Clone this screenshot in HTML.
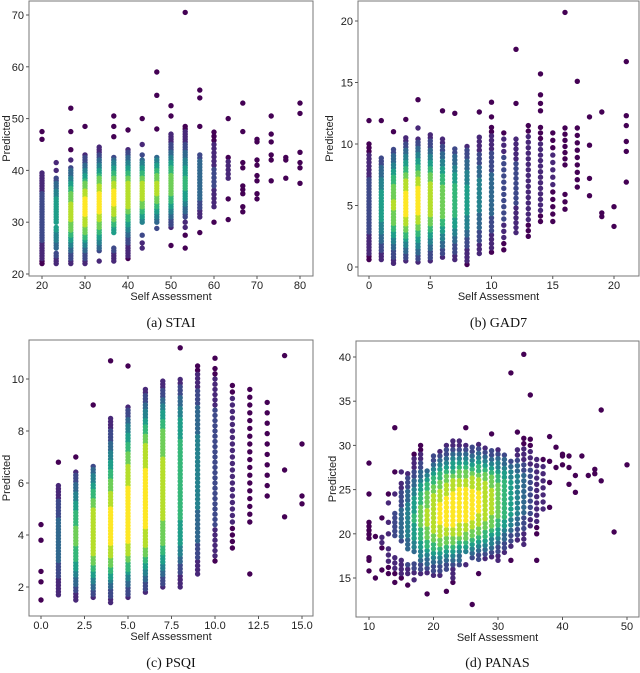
<!DOCTYPE html>
<html><head><meta charset="utf-8"><style>
body{margin:0;background:#fff}
svg{display:block}
text{font-family:"Liberation Sans",sans-serif;fill:#222}
.cap{font-family:"Liberation Serif",serif;font-size:14px;fill:#111}
</style></head><body>
<svg id="c" width="640" height="673" viewBox="0 0 640 673"></svg>
<script>
// ---- data (column x value : strip spec "a-b:step" or single values) ----
const staiCols=[20,23.3,26.7,30,33.3,36.7,40,43.3,46.7,50,53.3,56.7,60,63.3,66.7,70,73.3,76.7,80];
const staiVals=["22-39.5:0.5 46 47.5","22-24:0.5 25-29:0.5 30-38.5:0.5 40 41.5","22-40.5:0.5 42 44 47.5 52","22-43:0.5 48.5","22.5 24.5-44.5:0.5","22.5-25:0.5 28-42.5:0.5 46.5 48.5 50.5","23-44:0.5 47.8","25 26 27.5 30-42:0.5 43 45 50","28.8 30-42.5:0.5 48 54.5 59","25.5 29-47:0.5 50.5 52.5","25 27.5 29 30 31-48.5:0.5 70.5","28 31-43.5:0.6 48.5 54 55.5","30 33-47.5:0.8","30.5 34.5 38.5-43:0.8 50","32 33 35.5 36.3 37 40.5 41.5 47.5 53","34.5 35.5 38 39 41 42 45.5 46","38 42 43 45.5 47 50.5","38.5 42 42.5","37.5 40.5 41.5 43.5 51 53"];
const gadCols=[0,1,2,3,4,5,6,7,8,9,10,11,12,13,14,15,16,17,18,19,20,21];
const gadVals=["0.6-7.6:0.25 7.9-10.2:0.3 11.9","0.6-9:0.25 11.9","0.3-9.6:0.25 11","0.5-10.6:0.25 12","0.4-10.5:0.25 11.3 13.6","0.5-10.8:0.25","0.8-10.6:0.3 12.7","0.6-9.7:0.3 12.5","0.2-10:0.3","1.1-10.8:0.35 12.6","1.2-11.5:0.35 12.2 13.4","1.4-11.1:0.5","2.8-10.7:0.4 13.3 17.7","2.5-11.7:0.45","3.7-11.4:0.45 12.7 13.3 14 15.7","3.7-11.4:0.6","4.7 5.3 5.9 8.3-11.4:0.5 20.7","6.5-11.5:0.6 15.1","5.8 7.2 9.9 12.2","4.1 4.4 12.6","3.3 4.9","6.9 9.4 10.2 11.5 12.3 16.7"];
const psqiCols=[0,1,2,3,4,5,6,7,8,9,10,11,12,13,14,15];
const psqiVals=["1.5 2.2 2.6 3.8 4.4","1.7-6:0.12 6.8","1.5-6.5:0.12 7","1.6-6.7:0.12 9","1.4-8.5:0.12 10.7","1.6-9:0.12 10.5","1.8-9.6:0.12","2-10:0.12","2-10:0.14 11.2","2.5-10.5:0.16","3-10.5:0.2 10.8","3.5-9.8:0.25","2.5 4.5-9.7:0.3","5.5-9.2:0.4","4.7 6.5 10.9","5.2 5.5 7.5"];
const panasCols=[10,11,12,13,14,15,16,17,18,19,20,21,22,23,24,25,26,27,28,29,30,31,32,33,34,35,36,37,38,39,40,41,42,43,44,45,46,48,50];
const panasVals=["15.8 17 17.3 19.5-21.3:0.45 24.5 28","15 19.7","15.9 18.4-19.7:0.6 21.8","15.5-18.5:0.7 20 21.3 23.5 24.5","14.5 15.5-17.5:0.6 19.8-22.7:0.5 24.5 27 32","15-17:0.5 19.2-25.8:0.5 27","14.2 15.5-16.6:0.5 18.3-27:0.5","14.8 15.6-17:0.5 18-29.3:0.5","15.5-30.4:0.5","13.2 15.6-27.5:0.5","15.3-29.2:0.5","15.3-29.7:0.5","13.5 16-30:0.5","14.5-30.7:0.5","16.5-30.8:0.5","16.5 18-30:0.5 32","12 17.3-30.2:0.5","15.5 17.1-30.1:0.5","17.2-29.8:0.5","17.4-29.5:0.5 31.3","17-29.8:0.5","17.9-29:0.5","17 18.6-28.3:0.6 38.2","19.3-30:0.6 31.5","18.8-30.8:0.6 40.3","20.9-31:0.7 35.7","17 20-28.5:0.7","22.8-28.7:0.8","23 25.8 28.2 31","27.5 29.8","27.8 28.8 29","25.6 27.5 28.8","24.7 26.6","28.8","26.6","26.8 27.3","26 34","20.2","27.8"];
// ---- axis tick labels ----
const staiXT=[20,30,40,50,60,70,80], staiYT=[20,30,40,50,60,70];
const gadXT=[0,5,10,15,20], gadYT=[0,5,10,15,20];
const psqiXT=["0.0","2.5","5.0","7.5","10.0","12.5","15.0"], psqiYT=[2,4,6,8,10];
const panasXT=[10,20,30,40,50], panasYT=[15,20,25,30,35,40];

const NS="http://www.w3.org/2000/svg", svg=document.getElementById('c');
function mk(t,a,p){const e=document.createElementNS(NS,t);for(const k in a)e.setAttribute(k,a[k]);(p||svg).appendChild(e);return e;}
const vir=["#440154","#482878","#3e4989","#31688e","#26828e","#1f9e89","#35b779","#6ece58","#b5de2b","#fde725"];
function parse(s){const o=[];s.split(' ').forEach(t=>{if(t.includes('-')){const [r,st]=t.split(':');const [a,b]=r.split('-').map(Number);const step=Number(st);for(let v=a;v<=b+1e-9;v+=step)o.push(v);}else o.push(Number(t));});return o;}
function panel(P){
  const g=mk('g',{});
  
  
  const sx=v=>P.x0+(v-P.xa)*(P.x1-P.x0)/(P.xb-P.xa);
  const sy=v=>P.y0+(v-P.ya)*(P.y1-P.y0)/(P.yb-P.ya);
  const pts=[];
  P.cols.forEach((c,i)=>parse(P.vals[i]).forEach(v=>pts.push([sx(c),sy(v)])));
  const d=pts.map(p=>{let s=0;for(const q of pts){const dx=p[0]-q[0],dy=p[1]-q[1];s+=Math.exp(-(dx*dx/(2*P.sx*P.sx)+dy*dy/(2*P.sy*P.sy)));}return s;});
  const mx=Math.max(...d);
  const idx=pts.map((p,i)=>i).sort((a,b)=>d[a]-d[b]);
  const dots=mk('g',{},g);
  
  
  idx.forEach(i=>{const t=Math.pow(d[i]/mx,P.gam);const c=mk('circle',{cx:pts[i][0].toFixed(1),cy:pts[i][1].toFixed(1),r:2.7,fill:vir[Math.min(9,Math.round(t*9))]},dots);
    
    });
  const fr=mk('rect',{x:P.L,y:P.T,width:P.R-P.L,height:P.B-P.T,fill:'none',stroke:'#777','stroke-width':1},g);
  
  
  P.xt.forEach(t=>{const x=sx(Number(t));mk('line',{x1:x,x2:x,y1:P.B,y2:P.B+3,stroke:'#555'},g);
    const e=mk('text',{x:x,y:P.B+13,'text-anchor':'middle','font-size':11},g);e.textContent=t;
    
    });
  P.yt.forEach(t=>{const y=sy(Number(t));mk('line',{x1:P.L-3,x2:P.L,y1:y,y2:y,stroke:'#555'},g);
    const e=mk('text',{x:P.L-5,y:y+4,'text-anchor':'end','font-size':11},g);e.textContent=t;
    
    });
  const xl=mk('text',{x:(P.L+P.R)/2,y:P.B+24,'text-anchor':'middle','font-size':11},g);xl.textContent='Self Assessment';
  
  
  const yx=P.ylx,yy=(P.T+P.B)/2;
  const yl=mk('text',{x:yx,y:yy,'text-anchor':'middle','font-size':11,transform:`rotate(-90 ${yx} ${yy})`},g);yl.textContent='Predicted';
  
  
  const cp=mk('text',{x:(P.L+P.R)/2,y:P.capy,'text-anchor':'middle',class:'cap'},g);cp.textContent=P.cap;
  
  
}
panel({name:'panel-stai',cols:staiCols,vals:staiVals,xt:staiXT,yt:staiYT,L:29,R:313,T:1,B:276,xa:20,xb:80,x0:42,x1:300,ya:20,yb:70,y0:274,y1:15,sx:22,sy:22,gam:3,ylx:10,cap:'(a) STAI',capy:327});
panel({name:'panel-gad7',cols:gadCols,vals:gadVals,xt:gadXT,yt:gadYT,L:358,R:639,T:1,B:276,xa:0,xb:20,x0:369,x1:614,ya:0,yb:20,y0:267,y1:21,sx:22,sy:28,gam:3,ylx:333,cap:'(b) GAD7',capy:327});
panel({name:'panel-psqi',cols:psqiCols,vals:psqiVals,xt:psqiXT,yt:psqiYT,L:29,R:313,T:340,B:616,xa:0,xb:15,x0:41,x1:302,ya:2,yb:10,y0:587,y1:379,sx:20,sy:28,gam:3,ylx:10,cap:'(c) PSQI',capy:667});
panel({name:'panel-panas',cols:panasCols,vals:panasVals,xt:panasXT,yt:panasYT,L:356,R:639,T:341,B:617,xa:10,xb:50,x0:369,x1:627,ya:15,yb:40,y0:578,y1:357,sx:20,sy:20,gam:3,ylx:336,cap:'(d) PANAS',capy:667});
</script>
</body></html>
